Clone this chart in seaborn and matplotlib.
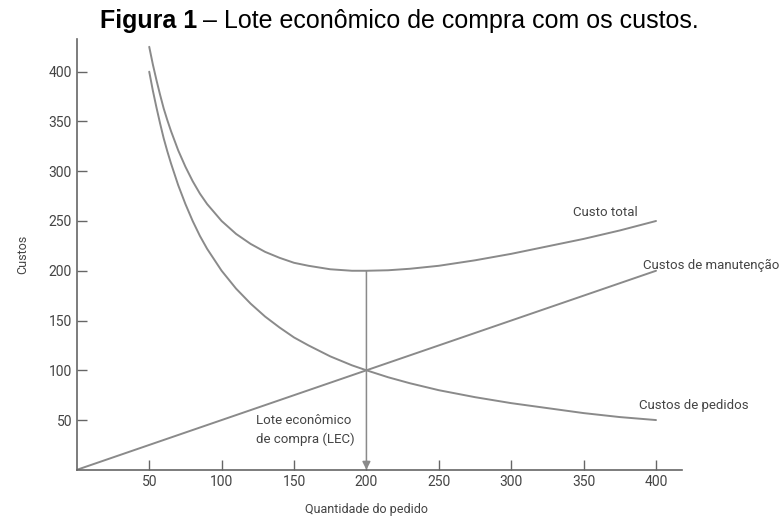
import pandas as pd
import seaborn as sns
import matplotlib.pyplot as plt

# valores
quantidade = [50, 52.5, 55, 57.5, 60, 62.5, 65, 70, 75, 80, 85, 90, 95, 100, 110, 120,
              130, 140, 150, 160, 175, 190, 200, 215, 230, 250, 275, 300, 325, 350, 375, 400]
custo_pedidos = [400, 381, 364, 348, 333, 320, 308, 286, 267, 250, 235, 222, 211, 200, 182, 167,
                 154, 143, 133, 125, 114, 105, 100, 93, 87, 80, 73, 67, 62, 57, 53, 50]
custo_total = [425, 407.3, 391.5, 376.8, 363, 351.3, 340.5, 321, 304.5, 290, 277.5, 267, 258.5,
               250, 237, 227, 219, 213, 208, 205, 201.5, 200, 200, 200.5, 202, 205, 210.5,
               217, 224.5, 232, 240.5, 250]
quantidade_manut = [0, 100, 200, 300, 400]
custo_manut = [0, 50, 100, 150, 200]
lec_x = 200
lec_y = 200

x_ticks = [50, 100, 150, 200, 250, 300, 350, 400]
y_ticks = [50, 100, 150, 200, 250, 300, 350, 400]

sns.set_style("ticks")
plt.rcParams['font.family'] = ['Roboto', 'DejaVu Sans']

cor = "#8a8a8a"
fig = plt.figure(figsize=(7.84, 5.18), dpi=100)
ax = fig.add_axes([0.098, 0.093, 0.772, 0.832])

df_total = pd.DataFrame({"q": quantidade, "c": custo_total})
df_ped = pd.DataFrame({"q": quantidade, "c": custo_pedidos})
df_man = pd.DataFrame({"q": quantidade_manut, "c": custo_manut})
for d in (df_total, df_ped, df_man):
    sns.lineplot(data=d, x="q", y="c", ax=ax, color=cor, linewidth=1.4)

# seta do LEC
ax.annotate("", xy=(lec_x, 0), xytext=(lec_x, lec_y),
            arrowprops=dict(arrowstyle="-|>", color=cor, lw=1.1,
                            mutation_scale=12, shrinkA=0, shrinkB=0))

ax.set_xlim(0, 418)
ax.set_ylim(0, 433)
ax.set_xticks(x_ticks)
ax.set_yticks(y_ticks)
ax.tick_params(direction="in", length=7, width=1, color="#666666",
               labelsize=10, labelcolor="#444444")
for s in ("top", "right"):
    ax.spines[s].set_visible(False)
for s in ("left", "bottom"):
    ax.spines[s].set_color("#666666")
    ax.spines[s].set_linewidth(1.2)
ax.set_xlabel("")
ax.set_ylabel("Custos", fontsize=9, color="#444444", labelpad=14)

txt = dict(fontsize=9.5, color="#444444")
ax.text(365, 259, "Custo total", ha="center", va="center", **txt)
ax.text(391, 205, "Custos de manutenção", ha="left", va="center", clip_on=False, **txt)
ax.text(388, 65, "Custos de pedidos", ha="left", va="center", clip_on=False, **txt)
ax.text(124, 40, "Lote econômico\nde compra (LEC)", ha="left", va="center",
        linespacing=1.6, **txt)
ax.text(200, -40, "Quantidade do pedido", ha="center", va="center",
        clip_on=False, fontsize=9, color="#444444")

# titulo: parte em negrito + resto
titulo_fam = ["Liberation Sans", "DejaVu Sans"]
t1 = fig.text(100 / 784, 1 - 28 / 518, "Figura 1", fontsize=18, fontweight="bold",
              family=titulo_fam, va="baseline", ha="left", color="black")
fig.canvas.draw()
bb = t1.get_window_extent(renderer=fig.canvas.get_renderer())
fig.text((bb.x1 + 6) / 784, 1 - 28 / 518, "– Lote econômico de compra com os custos.",
         fontsize=18, family=titulo_fam, va="baseline", ha="left", color="black")

fig.savefig("out.png", dpi=100)
